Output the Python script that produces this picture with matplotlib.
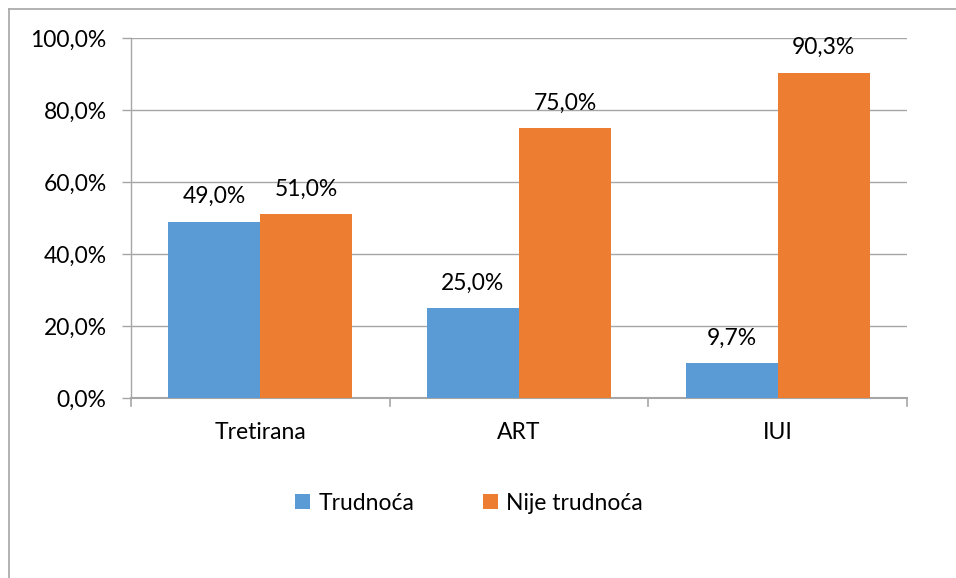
import matplotlib
matplotlib.use("Agg")
import matplotlib.pyplot as plt
from matplotlib.lines import Line2D
from matplotlib.patches import Patch
from matplotlib.ticker import FixedLocator, FuncFormatter
import numpy as np

categories = ["Tretirana", "ART", "IUI"]
trudnoca = [49.0, 25.0, 9.7]
nije_trudnoca = [51.0, 75.0, 90.3]
series_names = ["Trudnoća", "Nije trudnoća"]

BLUE = "#5B9BD5"
ORANGE = "#ED7D31"
GRID = "#A6A6A6"
FS = 16.5

plt.rcParams["font.family"] = ["Lato", "DejaVu Sans"]

W, H = 956, 578
fig = plt.figure(figsize=(W / 100, H / 100), dpi=100)

# plot area in pixel coordinates
left, right, top, bottom = 131, 907, 38, 398
ax = fig.add_axes([left / W, 1 - bottom / H, (right - left) / W, (bottom - top) / H])

x = np.arange(len(categories))
bw = 0.356
b1 = ax.bar(x - bw / 2, trudnoca, bw, color=BLUE, zorder=3)
b2 = ax.bar(x + bw / 2, nije_trudnoca, bw, color=ORANGE, zorder=3)

def pct(v):
    return f"{v:.1f}%".replace(".", ",")

for bars, vals in ((b1, trudnoca), (b2, nije_trudnoca)):
    for rect, v in zip(bars, vals):
        ax.annotate(pct(v), (rect.get_x() + rect.get_width() / 2, v),
                    xytext=(0, 10.5), textcoords="offset points",
                    ha="center", va="bottom", fontsize=FS, color="#000000")

ax.set_xlim(-0.5, len(categories) - 0.5)
ax.set_ylim(0, 100)
ax.yaxis.set_major_locator(FixedLocator([0, 20, 40, 60, 80, 100]))
ax.yaxis.set_major_formatter(FuncFormatter(lambda v, p: pct(v)))
ax.grid(axis="y", color=GRID, linewidth=1.0, zorder=0)

ax.set_xticks(x)
ax.set_xticklabels(categories)
ax.tick_params(axis="x", length=0, pad=17, labelsize=FS)
ax.tick_params(axis="y", length=6.5, width=1.0, color=GRID, pad=11, labelsize=FS)

# category separator ticks below the x axis
for b in np.arange(-0.5, len(categories), 1.0):
    ax.plot([b, b], [0, -0.022 * 100], color=GRID, lw=1.2, clip_on=False, zorder=4)

for s in ("top", "right"):
    ax.spines[s].set_visible(False)
ax.spines["left"].set_color(GRID)
ax.spines["bottom"].set_color(GRID)
ax.spines["bottom"].set_linewidth(1.5)
ax.spines["left"].set_linewidth(1.0)

handles = [Patch(facecolor=BLUE), Patch(facecolor=ORANGE)]
fig.legend(handles, series_names, loc="center", bbox_to_anchor=(469 / W, 1 - 503 / H),
           ncol=2, frameon=False, fontsize=FS, handlelength=0.65, handleheight=0.65,
           handletextpad=0.35, columnspacing=3.0)

# chart frame
fig.add_artist(Line2D([9 / W, 9 / W], [0, 1 - 9 / H], color=GRID, lw=1.2))
fig.add_artist(Line2D([9 / W, 1], [1 - 9 / H, 1 - 9 / H], color=GRID, lw=1.2))

fig.savefig("out.png", dpi=100, facecolor="white")
